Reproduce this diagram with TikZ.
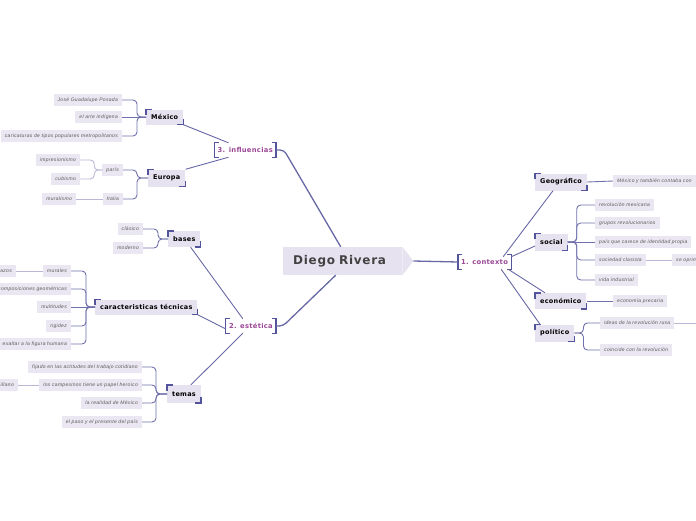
\documentclass[tikz,border=0pt]{standalone}
\usepackage{fontspec}
\usepackage{tikz}
\usetikzlibrary{positioning,calc}
\definecolor{LineBlue}{RGB}{104,104,166}
\definecolor{TwigBlue}{RGB}{112,112,172}
\definecolor{PaleLine}{RGB}{184,184,214}
\definecolor{CornerBlue}{RGB}{84,84,156}
\definecolor{TopicFill}{RGB}{231,226,239}
\definecolor{LeafFill}{RGB}{235,231,242}
\definecolor{LeafText}{RGB}{88,88,88}
\definecolor{BranchPurple}{RGB}{154,72,150}
\definecolor{RootText}{RGB}{66,66,66}
\newfontfamily\leaffam{Liberation Sans}[LetterSpace=6]
\newfontfamily\topicfam{DejaVu Sans}[LetterSpace=4]
\newfontfamily\rootfam{DejaVu Sans}[LetterSpace=6]
\tikzset{
  link/.style={draw=LineBlue,line width=0.9pt},
  rootlink/.style={draw=LineBlue,line width=1.3pt,rounded corners=4pt},
  twig/.style={draw=TwigBlue,line width=0.9pt,rounded corners=4pt},
  pale/.style={draw=PaleLine,line width=0.9pt},
  corner/.style={draw=CornerBlue,line width=1.5pt},
  leaf/.style={fill=LeafFill,text=LeafText,inner xsep=4pt,inner ysep=0pt,minimum height=12pt,
    font=\leaffam\itshape\fontsize{5}{6}\selectfont},
  topic/.style={fill=TopicFill,text=black,inner xsep=5pt,inner ysep=0pt,minimum height=16pt,
    font=\topicfam\bfseries\fontsize{6.5}{7}\selectfont},
  branch/.style={text=BranchPurple,inner xsep=3pt,inner ysep=0pt,minimum height=14pt,
    font=\topicfam\bfseries\fontsize{6.8}{7}\selectfont},
  root/.style={fill=TopicFill,text=RootText,inner xsep=10pt,inner ysep=0pt,text width=99pt,
    align=left,minimum height=28pt,font=\rootfam\bfseries\fontsize{12}{13}\selectfont},
}
\newcommand{\tcorner}[1]{%
  \draw[corner] ([yshift=-6pt]#1.north west) -- (#1.north west) -- ([xshift=6pt]#1.north west);
  \draw[corner] ([yshift=6pt]#1.south east) -- (#1.south east) -- ([xshift=-6pt]#1.south east);}
\newcommand{\sqbr}[1]{%
  \draw[corner,line width=1.1pt] ([xshift=4pt]#1.north west) -- (#1.north west) -- (#1.south west) -- ([xshift=4pt]#1.south west);
  \draw[corner,line width=1.1pt] ([xshift=-4pt]#1.north east) -- (#1.north east) -- (#1.south east) -- ([xshift=-4pt]#1.south east);}

\begin{document}
\begin{tikzpicture}[x=1pt,y=-1pt]
\useasboundingbox (0,0) rectangle (696,520);
\clip (0,0) rectangle (696,520);

% centre
\node[root,anchor=west] (diego) at (283,261) {Diego Rivera};
\fill[TopicFill] (diego.north east) -- ([xshift=11pt]diego.east) -- (diego.south east) -- cycle;
\coordinate (tip) at ([xshift=11pt]diego.east);

% main branches
\node[branch,anchor=west] (ctx) at (458,262) {1. contexto};
\node[branch,anchor=east] (est) at (276,326) {2. estética};
\node[branch,anchor=east] (inf) at (276,150) {3. influencias};
\sqbr{ctx}
\sqbr{est}
\sqbr{inf}
\draw[rootlink] (tip) -- (ctx.west);
\draw[rootlink] (inf.east) -- ++(8,0) -- ([xshift=-2pt]diego.north);
\draw[rootlink] (est.east) -- ++(7,0) -- ([xshift=-7pt]diego.south);

% 3. influencias
\node[topic,anchor=west,minimum height=15pt] (mex) at (146,117) {México};
\node[topic,anchor=west,minimum height=17pt] (eur) at (148,178) {Europa};
\tcorner{mex}
\tcorner{eur}
\draw[link] (mex.south east) -- ([xshift=14pt]inf.north west);
\draw[link] (eur.north east) -- ([xshift=14pt]inf.south west);
\node[leaf,anchor=east] (posada) at (122,100) {José Guadalupe Posada};
\node[leaf,anchor=east] (indigena) at (122,117) {el arte indígena};
\node[leaf,anchor=east] (caric) at (122,136) {caricaturas de tipos populares metropolitanos};
\draw[twig] (mex.west) -- ++(-9,0) |- (posada.east);
\draw[twig] (mex.west) -- (indigena.east);
\draw[twig] (mex.west) -- ++(-9,0) |- (caric.east);
\node[leaf,anchor=east] (paris) at (123,170) {parís};
\node[leaf,anchor=east] (italia) at (123,199) {Italia};
\draw[twig] (eur.west) -- ++(-11,0) |- (paris.east);
\draw[twig] (eur.west) -- ++(-11,0) |- (italia.east);
\node[leaf,anchor=east] (impres) at (80,160) {impresionismo};
\node[leaf,anchor=east] (cubismo) at (80,179) {cubismo};
\node[leaf,anchor=east] (muralismo) at (76,199) {muralismo};
\draw[twig,draw=PaleLine] (paris.west) -- ++(-8,0) |- (impres.east);
\draw[twig,draw=PaleLine] (paris.west) -- ++(-8,0) |- (cubismo.east);
\draw[pale] (italia.west) -- (muralismo.east);

% 2. estetica
\node[topic,anchor=west] (bas) at (168,239) {bases};
\node[topic,anchor=west,minimum height=15pt] (car) at (95,307) {caracteristicas técnicas};
\node[topic,anchor=west,minimum height=18pt] (tem) at (167,394) {temas};
\tcorner{bas}
\tcorner{car}
\tcorner{tem}
\draw[link] ([xshift=-10pt]bas.south east) -- ([xshift=17pt]est.north west);
\draw[link] (car.south east) -- ([yshift=-3pt]est.west);
\draw[link] ([xshift=-10pt]tem.north east) -- ([xshift=17pt]est.south west);
\node[leaf,anchor=east] (clasico) at (143,229) {clásico};
\node[leaf,anchor=east] (moderno) at (143,248) {moderno};
\draw[twig] (bas.west) -- ++(-10,0) |- (clasico.east);
\draw[twig] (bas.west) -- ++(-10,0) |- (moderno.east);
\node[leaf,anchor=east] (murales) at (71,271) {murales};
\node[leaf,anchor=east] (trazos) at (16,271) {trazos};
\node[leaf,anchor=east] (compos) at (71,289) {composiciones geométricas};
\node[leaf,anchor=east] (multitudes) at (71,307) {multitudes};
\node[leaf,anchor=east] (rigidez) at (71,326) {rigidez};
\node[leaf,anchor=east] (exaltar) at (71,344) {exaltar a la figura humana};
\draw[twig] (car.west) -- ++(-9,0) |- (murales.east);
\draw[twig] (car.west) -- ++(-9,0) |- (compos.east);
\draw[twig] (car.west) -- (multitudes.east);
\draw[twig] (car.west) -- ++(-9,0) |- (rigidez.east);
\draw[twig] (car.west) -- ++(-9,0) |- (exaltar.east);
\draw[pale] (murales.west) -- (trazos.east);
\node[leaf,anchor=east] (fijado) at (142,367) {fijado en las actitudes del trabajo cotidiano};
\node[leaf,anchor=east] (campesinos) at (142,385) {los campesinos tiene un papel heroico};
\node[leaf,anchor=east] (illano) at (18,385) {illano};
\node[leaf,anchor=east] (realidad) at (142,403) {la realidad de México};
\node[leaf,anchor=east] (paso) at (142,422) {el paso y el presente del país};
\draw[twig] (tem.west) -- ++(-11,0) |- (fijado.east);
\draw[twig] (tem.west) -- ++(-11,0) |- (campesinos.east);
\draw[twig] (tem.west) -- ++(-11,0) |- (realidad.east);
\draw[twig] (tem.west) -- ++(-11,0) |- (paso.east);
\draw[pale] (campesinos.west) -- (illano.east);

% 1. contexto
\node[topic,anchor=west,minimum height=17pt] (geo) at (535,182) {Geográfico};
\node[topic,anchor=west,minimum height=17pt] (soc) at (535,242) {social};
\node[topic,anchor=west] (eco) at (535,301) {económico};
\node[topic,anchor=west,minimum height=17pt] (pol) at (535,333) {político};
\tcorner{geo}
\tcorner{soc}
\tcorner{eco}
\tcorner{pol}
\draw[link] ([xshift=-8pt,yshift=-2pt]ctx.north east) -- ([xshift=18pt]geo.south west);
\draw[link] ([yshift=-2pt]ctx.north east) -- ([yshift=-4pt]soc.west);
\draw[link] ([xshift=-3pt]ctx.south east) -- ([xshift=10pt]eco.north west);
\draw[link] ([xshift=-10pt]ctx.south east) -- ([xshift=5pt]pol.north west);
\node[leaf,anchor=west] (mexcon) at (613,181) {México y también contaba con};
\draw[twig] (geo.east) -- (mexcon.west);
\node[leaf,anchor=west] (revmex) at (595,205) {revolución mexicana};
\node[leaf,anchor=west] (grupos) at (595,223) {grupos revolucionarios};
\node[leaf,anchor=west] (pais) at (595,242) {país que carece de identidad propia};
\node[leaf,anchor=west] (sociedad) at (595,260) {sociedad clasista};
\node[leaf,anchor=west] (vida) at (595,280) {vida industrial};
\node[leaf,anchor=west] (oprim) at (672,260) {se oprimía};
\draw[twig] (soc.east) -- ++(9,0) |- (revmex.west);
\draw[twig] (soc.east) -- ++(9,0) |- (grupos.west);
\draw[twig] (soc.east) -- (pais.west);
\draw[twig] (soc.east) -- ++(9,0) |- (sociedad.west);
\draw[twig] (soc.east) -- ++(9,0) |- (vida.west);
\draw[pale] (sociedad.east) -- (oprim.west);
\node[leaf,anchor=west] (precaria) at (613,301) {economía precaria};
\draw[twig] (eco.east) -- (precaria.west);
\node[leaf,anchor=west] (rusa) at (600,323) {ideas de la revolución rusa};
\node[leaf,anchor=west] (coincide) at (600,350) {coincide con la revolución};
\coordinate (rusaend) at (700,323);
\draw[twig] (pol.east) -- ++(9,0) |- (rusa.west);
\draw[twig] (pol.east) -- ++(9,0) |- (coincide.west);
\draw[pale] (rusa.east) -- (rusaend);
\end{tikzpicture}
\end{document}
